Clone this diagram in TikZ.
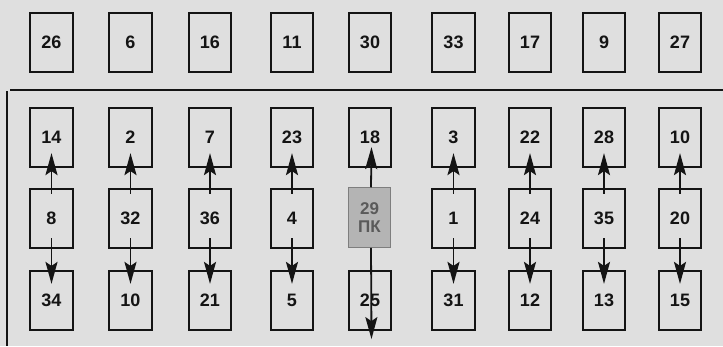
\documentclass[tikz,border=0pt]{standalone}
\usepackage{fontspec}
\setmainfont{Liberation Sans}
\usetikzlibrary{arrows.meta}
\definecolor{bgc}{HTML}{DFDFDF}
\definecolor{pkfill}{HTML}{B4B4B4}
\definecolor{pktext}{HTML}{5A5A5A}
\definecolor{ink}{HTML}{141414}
\tikzset{
  box/.style={draw=ink, line width=1.7pt, fill=bgc, minimum width=42.5pt, minimum height=59.5pt, inner sep=0pt,
    font=\fontsize{18}{20}\selectfont\bfseries, text=ink},
  pkbox/.style={box, draw=pkfill!70!black, line width=1pt, fill=pkfill, text=pktext, align=center,
    font=\fontsize{17}{20}\selectfont\bfseries},
  arr/.style={draw=ink, line width=1.8pt, -{Stealth[length=22pt,width=12pt,inset=4pt]}},
  frame/.style={draw=ink, line width=2pt}
}
\begin{document}
\begin{tikzpicture}[x=1pt,y=-1pt]
\fill[bgc] (0,0) rectangle (723,346);
\useasboundingbox (0,0) rectangle (723,346);
% frame
\coordinate (fh1) at (10,89.5);
\coordinate (fh2) at (723,89.5);
\coordinate (fv1) at (7,91);
\coordinate (fv2) at (7,346);
\draw[frame] (fh1) -- (fh2);
\draw[frame] (fv1) -- (fv2);
% boxes
\foreach \x/\a/\b/\c/\d [count=\i] in {51.5/26/14/8/34, 130.5/6/2/32/10, 210/16/7/36/21, 292/11/23/4/5, 370/30/18/X/25, 453.5/33/3/1/31, 530/17/22/24/12, 604/9/28/35/13, 680/27/10/20/15}{
  \node[box] (a\i) at (\x,42.5) {\a};
  \node[box] (b\i) at (\x,137.5) {\b};
  \node[box] (d\i) at (\x,300.5) {\d};
}
\foreach \x/\c [count=\i] in {51.5/8, 130.5/32, 210/36, 292/4, 370/X, 453.5/1, 530/24, 604/35, 680/20}{
  \ifnum\i=5
    \node[pkbox] (c\i) at (369.5,217.5) {29\\[-2pt]ПК};
  \else
    \node[box] (c\i) at (\x,218.5) {\c};
  \fi
}
% arrows
\foreach \i in {1,2,3,4,6,7,8,9}{
  \draw[arr] ([yshift=-6pt]c\i.north) -- ([yshift=15pt]b\i.south);
  \draw[arr] ([yshift=11pt]c\i.south) -- ([yshift=-14pt]d\i.north);
}
\draw[arr] ([xshift=1.5pt]c5.north) -- ([xshift=1.5pt,yshift=21pt]b5.south);
\draw[arr] ([xshift=1.5pt]c5.south) -- ([xshift=1.5pt,yshift=-8pt]d5.south);
\end{tikzpicture}
\end{document}
